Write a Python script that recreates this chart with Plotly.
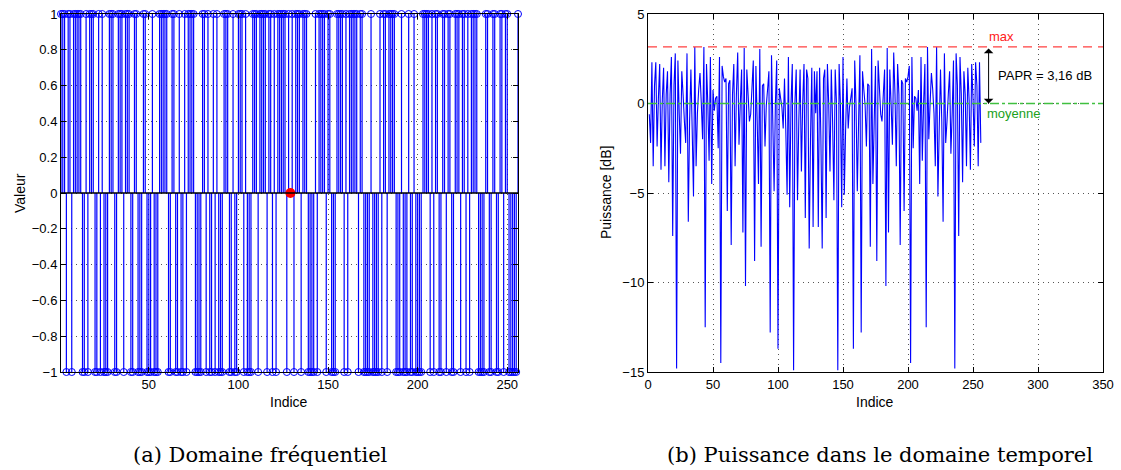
import plotly.graph_objects as go

# ---------------- data ----------------
INDICES = list(range(1, 257))

FREQ_VALUES = [
    1, 1, 1, -1, 1, 1, -1, 1, 1, 1, 1, 1, -1, -1, 1, -1,
    1, 1, 1, -1, -1, 1, -1, 1, -1, -1, -1, 1, 1, 1, -1, -1,
    1, 1, 1, -1, 1, 1, 1, -1, -1, 1, 1, -1, -1, -1, 1, 1,
    -1, -1, -1, 1, -1, -1, -1, 1, 1, 1, 1, 1, -1, -1, 1, 1,
    -1, -1, 1, -1, -1, 1, -1, 1, 1, 1, 1, -1, -1, -1, -1, 1,
    1, -1, 1, -1, -1, 1, -1, 1, -1, -1, -1, 1, 1, 1, -1, -1,
    1, -1, -1, 1, 1, 1, -1, 1, -1, -1, -1, 1, 1, 1, -1, 1,
    1, 1, 1, -1, 1, 1, -1, 1, -1, 1, 1, 1, 1, 1, -1, 1,
    0, 1, -1, 1, 1, 1, -1, 1, 1, 1, -1, -1, -1, -1, 1, -1,
    1, 1, 1, 1, -1, 1, 1, -1, -1, -1, 1, 1, 1, 1, -1, 1,
    -1, 1, 1, 1, 1, 1, -1, 1, 1, -1, -1, -1, -1, 1, -1, -1,
    -1, -1, 1, -1, 1, 1, -1, 1, 1, 1, 1, -1, -1, -1, 1, -1,
    -1, -1, 1, -1, -1, 1, -1, -1, -1, -1, 1, 1, 1, 1, -1, 1,
    -1, 1, 1, -1, -1, 1, 1, -1, 1, 1, -1, -1, 1, 1, 1, -1,
    1, 1, -1, 1, -1, 1, 1, 1, 1, -1, -1, -1, -1, 1, 1, -1,
    -1, 1, 1, -1, -1, 1, 1, -1, 1, 1, -1, -1, -1, -1, -1, 1,
]

POWER_DB = [
    -0.6, -2.2, 2.3, -3.5, 1.0, 2.3, -2.4, 0.3, 2.2, -3.7,
    0.2, 2.0, -3.5, 0.5, 1.8, -4.4, 0.5, 2.6, -7.4, 1.0,
    2.8, -14.8, 2.4, -0.5, -2.8, 1.8, 0.5, -1.0, -2.2, 2.8,
    -6.6, -1.0, 1.9, -1.5, -5.2, 3.16, -3.5, -0.56, 0.8, 1.7,
    0.0, -2.0, 3.16, -12.5, 2.2, 0.0, -3.2, 2.6, -4.5, 0.75,
    -0.4, 0.3, 0.4, -2.5, 2.6, -14.5, 2.1, 1.5, 1.2, 1.4,
    -6.0, 1.1, 1.3, -7.9, 0.5, 2.2, -3.5, 0.5, 2.85, -2.3,
    0.0, 1.9, -7.2, 3.1, -10.2, 1.9, 0.5, -1.0, -0.6, 0.9,
    2.4, -8.8, 2.1, -1.0, -4.5, 3.05, -8.0, 1.0, 1.1, -2.4,
    -0.1, 0.8, 1.8, -12.8, 2.7, -1.0, -4.9, 0.0, 2.4, -13.7,
    0.85, 0.3, -0.2, -1.4, 1.4, -1.5, -5.1, 2.6, -5.8, 0.0,
    2.2, -14.9, 0.0, 1.9, -5.4, -1.0, 1.9, -3.8, 0.0, 2.2,
    -6.4, 1.9, 1.4, -8.1, -2.0, 2.0, -6.9, 1.8, -0.55, 1.8,
    -6.9, 2.0, -2.0, -8.1, 1.4, 1.9, -6.4, 2.2, 0.0, -3.8,
    1.9, -1.0, -5.4, 1.9, 0.0, -14.9, 2.2, 0.0, -5.8, 2.6,
    -5.1, -1.5, 1.4, -1.4, -0.2, 0.3, 0.85, -13.7, 2.4, 0.0,
    -4.9, -1.0, 2.7, -12.8, 1.8, 0.8, -0.1, -2.4, 1.1, 1.0,
    -8.0, 3.05, -4.5, -1.0, 2.1, -8.8, 2.4, 0.9, -0.6, -1.0,
    0.5, 1.9, -10.2, 3.1, -7.2, 1.9, 0.0, -2.3, 2.85, 0.5,
    -3.5, 2.2, 0.5, -7.9, 1.3, 1.1, -6.0, 1.4, 1.2, 1.5,
    2.1, -14.5, 2.6, -2.5, 0.4, 0.3, -0.4, 0.75, -4.5, 2.6,
    -3.2, 0.0, 2.2, -12.5, 3.16, -2.0, 0.0, 1.7, 0.8, -0.56,
    -3.5, 3.16, -5.2, -1.5, 1.9, -1.0, -6.6, 2.8, -2.2, -1.0,
    0.5, 1.8, -2.8, -0.5, 2.4, -14.8, 2.8, 1.0, -7.4, 2.6,
    0.5, -4.4, 1.8, 0.5, -3.5, 2.0, 0.2, -3.7, 2.2, 0.3,
    -2.4, 2.3, 1.0, -3.5, 2.3, -2.2,
]

PAPR_DB = 3.16
MEAN_DB = 0.0
NULL_INDEX = 129
NULL_VALUE = 0

LEFT_XTICKS = [50, 100, 150, 200, 250]
LEFT_YTICKS = [-1, -0.8, -0.6, -0.4, -0.2, 0, 0.2, 0.4, 0.6, 0.8, 1]
LEFT_YTICKTEXT = ["\u22121", "\u22120.8", "\u22120.6", "\u22120.4", "\u22120.2", "0",
                  "0.2", "0.4", "0.6", "0.8", "1"]
RIGHT_XTICKS = [0, 50, 100, 150, 200, 250, 300, 350]
RIGHT_YTICKS = [-15, -10, -5, 0, 5]
RIGHT_YTICKTEXT = ["\u221215", "\u221210", "\u22125", "0", "5"]

# ---------------- figure ----------------
W, H = 1121, 470
BLUE = "#0000ff"
SANS = "Liberation Sans, Arial, sans-serif"
SERIF = "DejaVu Serif, Liberation Serif, serif"

fig = go.Figure()

# stems
sx, sy = [], []
for i, v in zip(INDICES, FREQ_VALUES):
    if v != 0:
        sx += [i, i, None]
        sy += [0, v, None]
fig.add_trace(go.Scatter(x=sx, y=sy, mode="lines", line=dict(color=BLUE, width=1.2),
                         xaxis="x", yaxis="y", hoverinfo="skip", showlegend=False))
mx = [i for i, v in zip(INDICES, FREQ_VALUES) if v != 0]
my = [v for v in FREQ_VALUES if v != 0]
fig.add_trace(go.Scatter(x=mx, y=my, mode="markers",
                         marker=dict(symbol="circle-open", size=7, color=BLUE,
                                     line=dict(color=BLUE, width=1)),
                         cliponaxis=False, xaxis="x", yaxis="y", showlegend=False))
fig.add_trace(go.Scatter(x=[NULL_INDEX], y=[NULL_VALUE], mode="markers",
                         marker=dict(symbol="circle", size=10, color="#ff0000"),
                         cliponaxis=False, xaxis="x", yaxis="y", showlegend=False))

# power
fig.add_trace(go.Scatter(x=INDICES, y=POWER_DB, mode="lines",
                         line=dict(color=BLUE, width=1.1, simplify=False),
                         xaxis="x2", yaxis="y2", showlegend=False))

shapes = [
    dict(type="line", xref="x", yref="y", x0=1, x1=256, y0=0, y1=0,
         line=dict(color="black", width=1.5)),
    dict(type="line", xref="x2 domain", yref="y2", x0=0, x1=1, y0=PAPR_DB, y1=PAPR_DB,
         line=dict(color="#ff4040", width=1.3, dash="9px,6px")),
    dict(type="line", xref="x2 domain", yref="y2", x0=0, x1=1, y0=MEAN_DB, y1=MEAN_DB,
         line=dict(color="#40c040", width=1.3, dash="dashdot")),
]

axis_common = dict(showline=True, linecolor="black", linewidth=1, mirror="allticks",
                   ticks="inside", ticklen=5, tickcolor="black",
                   showgrid=True, gridcolor="#555555", griddash="1px,4px", gridwidth=1,
                   zeroline=False, automargin=False,
                   tickfont=dict(family=SANS, size=13, color="black"))

XL = (61 / W, 518 / W)
XR = (648 / W, 1103 / W)
YD = (1 - 372 / H, 1 - 14 / H)

fig.update_layout(
    autosize=True, margin=dict(l=0, r=0, t=0, b=0, pad=0, autoexpand=False),
    paper_bgcolor="white", plot_bgcolor="white", showlegend=False,
    xaxis=dict(domain=list(XL), range=[1, 256], tickvals=LEFT_XTICKS, anchor="y", **axis_common),
    yaxis=dict(domain=list(YD), range=[-1, 1], tickvals=LEFT_YTICKS, ticktext=LEFT_YTICKTEXT,
               anchor="x", **axis_common),
    xaxis2=dict(domain=list(XR), range=[0, 350], tickvals=RIGHT_XTICKS, anchor="y2", **axis_common),
    yaxis2=dict(domain=list(YD), range=[-15, 5], tickvals=RIGHT_YTICKS, ticktext=RIGHT_YTICKTEXT,
                anchor="x2", **axis_common),
    shapes=shapes,
)

ann = []
def paper_text(text, xpx, ypx, size, family=SANS, color="black", angle=0, xanchor="center"):
    ann.append(dict(text=text, x=xpx / W, y=1 - ypx / H, xref="paper", yref="paper",
                    showarrow=False, textangle=angle, xanchor=xanchor, yanchor="middle",
                    font=dict(family=family, size=size, color=color)))

paper_text("Indice", 289, 402, 14)
paper_text("Valeur", 20, 193, 14, angle=-90)
paper_text("Indice", 875, 402, 14)
paper_text("Puissance [dB]", 606, 193, 14, angle=-90)
paper_text("(a) Domaine fréquentiel", 260, 455, 21, family=SERIF)
paper_text("(b) Puissance dans le domaine temporel", 880, 455, 21, family=SERIF)

# annotations on the power plot
ann.append(dict(text="max", x=261, y=PAPR_DB, xref="x2", yref="y2", showarrow=False,
                xanchor="left", yanchor="bottom", yshift=1,
                font=dict(family=SANS, size=13, color="#ff2020")))
ann.append(dict(text="moyenne", x=259, y=MEAN_DB, xref="x2", yref="y2", showarrow=False,
                xanchor="left", yanchor="top", yshift=0,
                font=dict(family=SANS, size=13, color="#20a020")))
ann.append(dict(text="PAPR = 3,16 dB", x=268, y=PAPR_DB / 2, xref="x2", yref="y2",
                showarrow=False, xanchor="left", yanchor="middle",
                font=dict(family=SANS, size=13, color="black")))
ann.append(dict(text="", x=262, y=MEAN_DB, ax=262, ay=PAPR_DB, xref="x2", yref="y2",
                axref="x2", ayref="y2", showarrow=True, arrowhead=1, startarrowhead=1,
                arrowside="end+start", arrowsize=1.6, startarrowsize=1.6,
                arrowwidth=1, arrowcolor="black"))
fig.update_layout(annotations=ann)

post = """
document.documentElement.style.margin='0';
document.documentElement.style.overflow='hidden';
document.body.style.margin='0';
document.body.style.padding='0';
document.body.style.overflow='hidden';
var gd = document.getElementById('{plot_id}');
gd.style.width = '100vw';
gd.style.height = '100vh';
if (gd.parentElement) { gd.parentElement.style.width='100vw'; gd.parentElement.style.height='100vh'; }
Plotly.Plots.resize(gd);
"""

fig.write_html("out.html", default_width="100%", default_height="100%",
               config={"displayModeBar": False, "responsive": True},
               post_script=post)
